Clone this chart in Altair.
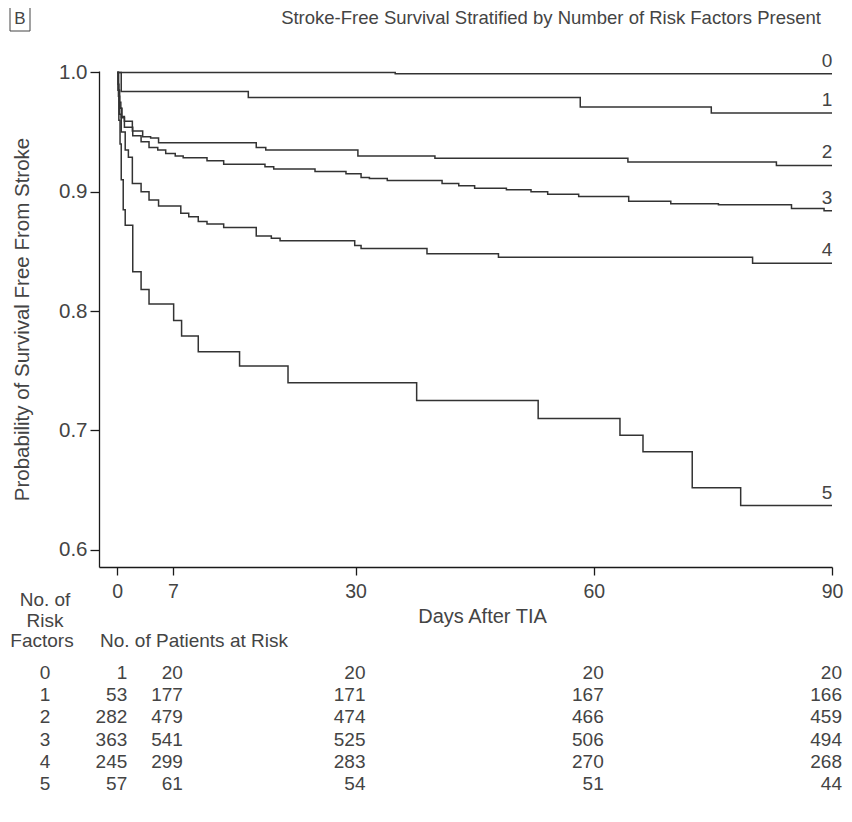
import altair as alt
import pandas as pd

FONT = "Liberation Sans"
INK = "#333333"
TEXT_INK = "#444444"
AXIS_INK = "#1a1a1a"

# ---- Kaplan-Meier step curves (day, survival) ----
days_0 = [0, 35.0, 90]
surv_0 = [1.0, 0.999, 0.999]

days_1 = [0, 0.5, 16.5, 58.3, 74.8, 90]
surv_1 = [1.0, 0.984, 0.979, 0.971, 0.966, 0.966]

days_2 = [0, 0.15, 0.3, 0.45, 0.6, 0.9, 1.9, 3.2, 4.2, 5.2, 17.5, 18.7, 30.3, 40.0, 64.3, 83.0, 90]
surv_2 = [1.0, 0.985, 0.975, 0.97, 0.963, 0.959, 0.951, 0.946, 0.945, 0.941, 0.937, 0.935, 0.930, 0.928, 0.925, 0.922, 0.922]

days_3 = [0, 0.15, 0.3, 0.5, 0.9, 1.95, 3.0, 4.0, 5.1, 6.1, 7.3, 8.3, 11.3, 13.4, 18.6, 19.7, 24.9,
          28.8, 30.7, 31.75, 34.0, 40.9, 43.0, 45.0, 49.0, 52.1, 54.2, 58.1, 64.4, 69.7, 75.7, 84.9, 89.0, 90]
surv_3 = [1.0, 0.98, 0.97, 0.962, 0.954, 0.947, 0.942, 0.937, 0.935, 0.932, 0.930, 0.9285, 0.926, 0.923,
          0.921, 0.919, 0.917, 0.915, 0.912, 0.911, 0.9095, 0.907, 0.905, 0.903, 0.9017, 0.900, 0.898,
          0.896, 0.892, 0.890, 0.889, 0.886, 0.884, 0.884]

days_4 = [0, 0.1, 0.25, 0.5, 1.0, 1.4, 1.9, 3.0, 4.0, 5.2, 8.0, 9.0, 10.2, 11.3, 13.4, 17.5, 19.4, 20.5,
          29.9, 30.7, 39.0, 48.0, 80.0, 90]
surv_4 = [1.0, 0.985, 0.965, 0.95, 0.935, 0.929, 0.907, 0.900, 0.893, 0.888, 0.882, 0.879, 0.875, 0.873,
          0.870, 0.863, 0.861, 0.859, 0.855, 0.8525, 0.848, 0.845, 0.840, 0.840]

days_5 = [0, 0.1, 0.2, 0.35, 0.5, 0.75, 1.0, 1.95, 3.0, 4.0, 7.1, 8.1, 10.2, 15.4, 21.5, 37.7, 53.0,
          63.3, 66.2, 72.4, 78.5, 90]
surv_5 = [1.0, 0.99, 0.96, 0.94, 0.91, 0.885, 0.872, 0.833, 0.818, 0.806, 0.792, 0.779, 0.766, 0.754,
          0.740, 0.725, 0.710, 0.696, 0.682, 0.652, 0.637, 0.637]

groups = ["0", "1", "2", "3", "4", "5"]
all_days = [days_0, days_1, days_2, days_3, days_4, days_5]
all_surv = [surv_0, surv_1, surv_2, surv_3, surv_4, surv_5]

# ---- Number at risk table ----
risk_days = [0, 7, 30, 60, 90]
at_risk_0 = [1, 20, 20, 20, 20]
at_risk_1 = [53, 177, 171, 167, 166]
at_risk_2 = [282, 479, 474, 466, 459]
at_risk_3 = [363, 541, 525, 506, 494]
at_risk_4 = [245, 299, 283, 270, 268]
at_risk_5 = [57, 61, 54, 51, 44]
at_risk = [at_risk_0, at_risk_1, at_risk_2, at_risk_3, at_risk_4, at_risk_5]

x_ticks = [0, 7, 30, 60, 90]
y_ticks = [0.6, 0.7, 0.8, 0.9, 1.0]

title_text = "Stroke-Free Survival Stratified by Number of Risk Factors Present"
y_title = "Probability of Survival Free From Stroke"
x_title = "Days After TIA"

# ---- build tables ----
curve_rows = []
for g, ds, ss in zip(groups, all_days, all_surv):
    for d, s in zip(ds, ss):
        curve_rows.append({"group": g, "day": d, "surv": s})
curves = pd.DataFrame(curve_rows)

end_rows = pd.DataFrame({"group": groups,
                         "day": [ds[-1] for ds in all_days],
                         "surv": [ss[-1] for ss in all_surv]})

table_rows = []
for i, (g, counts) in enumerate(zip(groups, at_risk)):
    for d, c in zip(risk_days, counts):
        table_rows.append({"row": i, "factor": g, "day": d, "count": str(c)})
table = pd.DataFrame(table_rows)
factor_df = pd.DataFrame({"row": list(range(len(groups))), "factor": groups})

xs = alt.Scale(domain=[-2.3, 90], nice=False, zero=False)
ys = alt.Scale(domain=[0.5855, 1.0012], nice=False, zero=False)
row_scale = alt.Scale(domain=[0, 5], range=[602, 713])

lines = alt.Chart(curves).mark_line(
    interpolate="step-after", color=INK, strokeWidth=1.5, clip=False
).encode(
    x=alt.X("day:Q", scale=xs,
            axis=alt.Axis(values=x_ticks, title=x_title, grid=False, tickSize=8,
                          labelFontSize=19.5, labelPadding=7, labelColor=TEXT_INK,
                          titleFontSize=20, titleFontWeight="normal", titleColor=TEXT_INK,
                          titleX=383, titleY=49, titleBaseline="middle", titleAlign="center",
                          labelFlush=False)),
    y=alt.Y("surv:Q", scale=ys,
            axis=alt.Axis(values=y_ticks, format=".1f", title=y_title, grid=False, tickSize=9,
                          labelFontSize=20.5, labelPadding=3, labelColor=TEXT_INK,
                          titleFontSize=20.5, titleFontWeight="normal", titleColor=TEXT_INK,
                          titleX=-77, titleY=248, titleBaseline="middle", titleAlign="center",
                          labelFlush=False)),
    detail="group:N",
)

end_labels = alt.Chart(end_rows).mark_text(
    align="center", baseline="alphabetic", dx=-5, dy=-7, fontSize=19, color=TEXT_INK, font=FONT
).encode(
    x=alt.X("day:Q", scale=xs),
    y=alt.Y("surv:Q", scale=ys, axis=None),
    text="group:N",
)

table_text = alt.Chart(table).mark_text(
    align="right", baseline="middle", dx=10, fontSize=19, color=TEXT_INK, font=FONT
).encode(
    x=alt.X("day:Q", scale=xs),
    y=alt.Y("row:Q", scale=row_scale, axis=None),
    text="count:N",
)

factor_text = alt.Chart(factor_df).mark_text(
    align="center", baseline="middle", fontSize=19, color=TEXT_INK, font=FONT
).encode(
    x=alt.value(-54),
    y=alt.Y("row:Q", scale=row_scale, axis=None),
    text="factor:N",
)

one = pd.DataFrame({"a": [0]})

def label(text, x, y, align="center", size=19):
    return alt.Chart(one).mark_text(
        text=text, align=align, baseline="middle", fontSize=size, color=TEXT_INK, font=FONT
    ).encode(x=alt.value(x), y=alt.value(y))

title = label(title_text, 452, -53, size=18.5)
b_letter = label("B", -79, -52, size=17)
b_box = alt.Chart(one).mark_rect(fill=None, stroke=TEXT_INK, strokeWidth=1).encode(
    x=alt.value(-89), x2=alt.value(-69), y=alt.value(-64), y2=alt.value(-40)
)
hdr1 = label("No. of", -54, 529)
hdr2 = label("Risk", -54, 550)
hdr3 = label("Factors", -57, 570)
hdr4 = label("No. of Patients at Risk", 1, 570, align="left")

chart = alt.layer(
    lines, end_labels, table_text, factor_text,
    title, b_box, b_letter, hdr1, hdr2, hdr3, hdr4
).resolve_scale(
    y="independent"
).properties(
    width=733, height=496,
    autosize=alt.AutoSizeParams(type="none"),
    padding={"left": 91, "top": 63, "right": 12, "bottom": 236},
).configure(
    font=FONT
).configure_view(
    stroke=None
).configure_axis(
    domainColor=AXIS_INK, tickColor=AXIS_INK, domainWidth=1.3, tickWidth=1.3,
    labelFont=FONT, titleFont=FONT
)

chart.save("out.html", embed_options={"renderer": "svg", "actions": False})
